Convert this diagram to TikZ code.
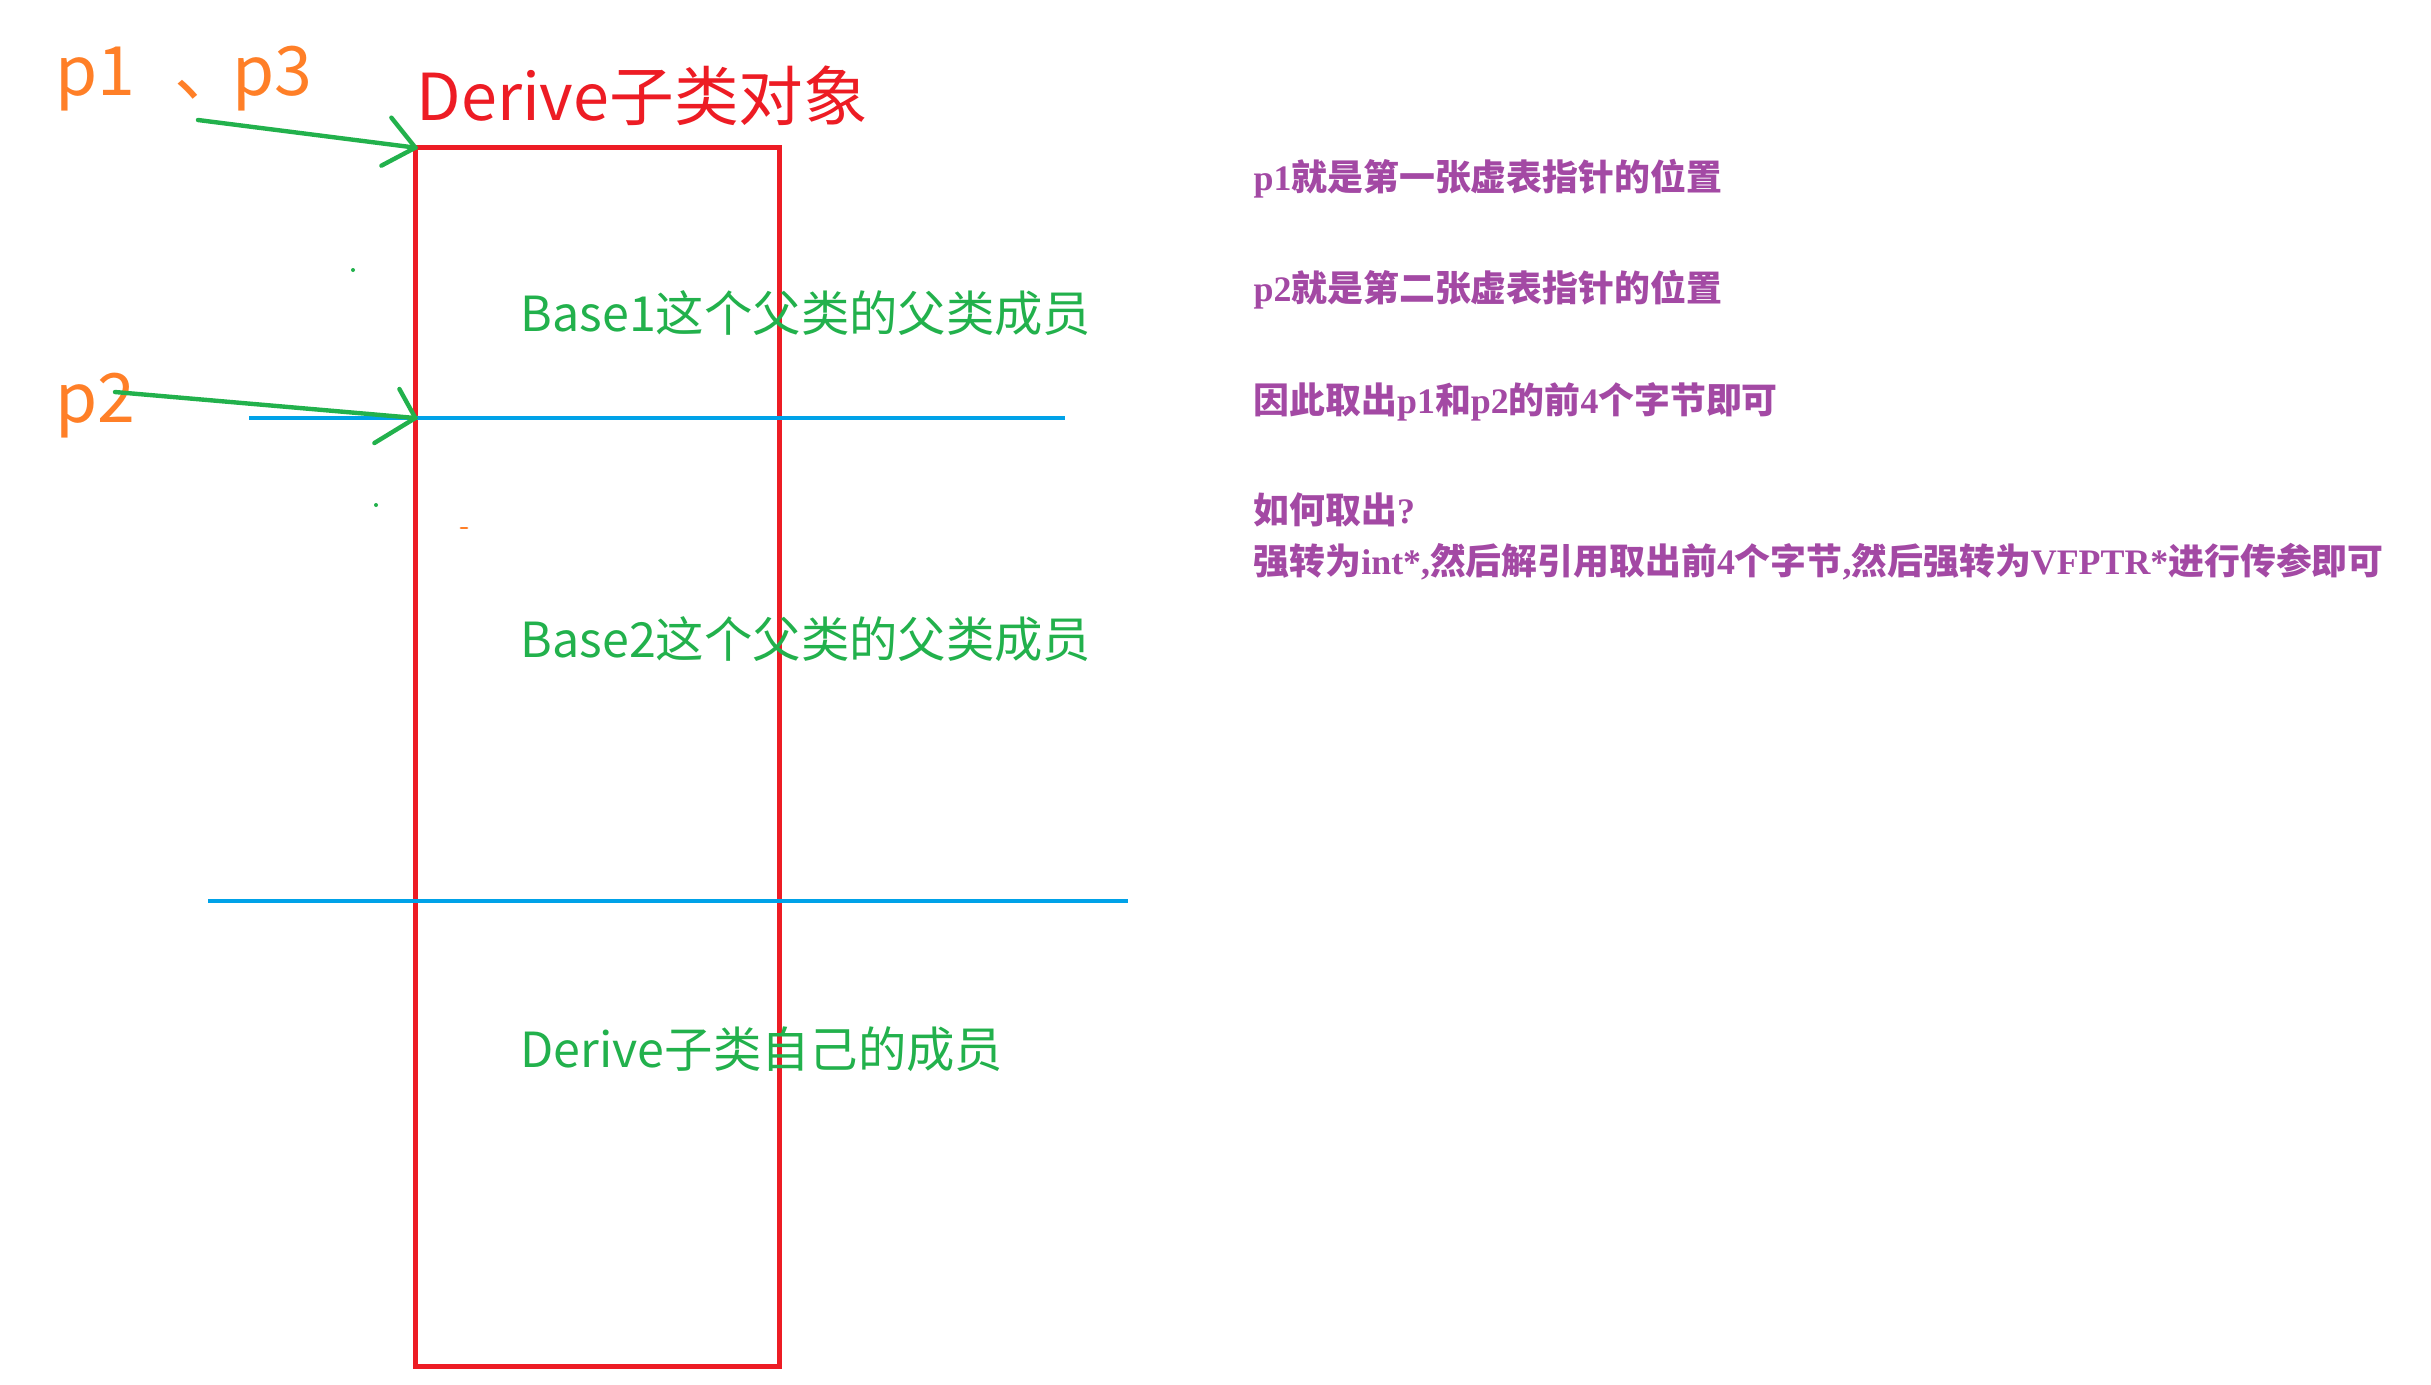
\documentclass[tikz,border=0pt]{standalone}
\usepackage{fontspec}
\setmainfont{Noto Sans CJK SC}
\newfontfamily\latser{Liberation Serif}
\newcommand\lat[1]{{\latser\bfseries #1}}
\definecolor{pred}{HTML}{ED1C24}
\definecolor{porange}{HTML}{FF7F27}
\definecolor{pgreen}{HTML}{22B14C}
\definecolor{pblue}{HTML}{00A2E8}
\definecolor{ppurple}{HTML}{A349A4}
\tikzset{
  otext/.style={anchor=base west, inner sep=0pt, text=porange, font=\fontsize{19.35pt}{22pt}\selectfont},
  rtext/.style={anchor=base west, inner sep=0pt, text=pred, font=\fontsize{18.4pt}{21pt}\selectfont},
  gtext/.style={anchor=base west, inner sep=0pt, text=pgreen, font=\fontsize{13.75pt}{16pt}\selectfont},
  ptext/.style={anchor=base west, inner sep=0pt, text=ppurple, font=\fontsize{10.2pt}{12pt}\selectfont\bfseries},
  objbox/.style={draw=pred, line width=1.34pt, inner sep=0pt, outer sep=0pt, minimum width=3.64cm, minimum height=12.18cm},
  divline/.style={draw=pblue, line width=1.4pt},
  garrow/.style={draw=pgreen, line width=1.25pt, line cap=round},
}
\begin{document}
\begin{tikzpicture}[x=0.01cm,y=-0.01cm]
\useasboundingbox (0,0) rectangle (2431,1384);
\fill[white] (0,0) rectangle (2431,1384);

% object box
\node[objbox] (obj) at (597.5,757) {};

% divider lines
\coordinate (b1l) at (249,418);
\coordinate (b1r) at (1065,418);
\coordinate (b2l) at (208,901);
\coordinate (b2r) at (1128,901);
\draw[divline] (b1l) -- (b1r);
\draw[divline] (b2l) -- (b2r);

% titles and labels
\node[rtext] (title) at (416,120) {Derive子类对象};
\node[otext] (p13) at (55,95) {p1\hspace{0.39cm}、\hspace{-0.1cm}p3};
\node[otext] (p2) at (55,422) {p2};

\node[gtext] (base1) at (520,331) {Base1这个父类的父类成员};
\node[gtext] (base2) at (520,657) {Base2这个父类的父类成员};
\node[gtext] (own) at (520,1067) {Derive子类自己的成员};

% arrows
\coordinate (s1) at (198,120);
\coordinate (s2) at (115,392);
\coordinate (t2) at (obj.west |- b1l);
\draw[garrow] (s1) -- (obj.north west);
\draw[garrow] (obj.north west) -- ++(-24,-30);
\draw[garrow] (obj.north west) -- ++(-34,18);
\draw[garrow] (s2) -- (t2);
\draw[garrow] (t2) -- ++(-16,-29);
\draw[garrow] (t2) -- ++(-41,25);

% stray specks
\fill[pgreen] (353,270) circle (2);
\fill[pgreen] (376,505) circle (2);
\draw[porange, line width=0.8pt, line cap=round] (461,528) -- (467,528);

% notes
\node[ptext] (n1) at (1253,190) {\lat{p1}就是第一张虚表指针的位置};
\node[ptext] (n2) at (1253,301) {\lat{p2}就是第二张虚表指针的位置};
\node[ptext] (n3) at (1253,413) {因此取出\lat{p1}和\lat{p2}的前\lat{4}个字节即可};
\node[ptext] (n4) at (1253,523) {如何取出\lat{?}};
\node[ptext] (n5) at (1253,574) {强转为\lat{int*,}然后解引用取出前\lat{4}个字节\lat{,}然后强转为\lat{VFPTR*}进行传参即可};
\end{tikzpicture}
\end{document}
